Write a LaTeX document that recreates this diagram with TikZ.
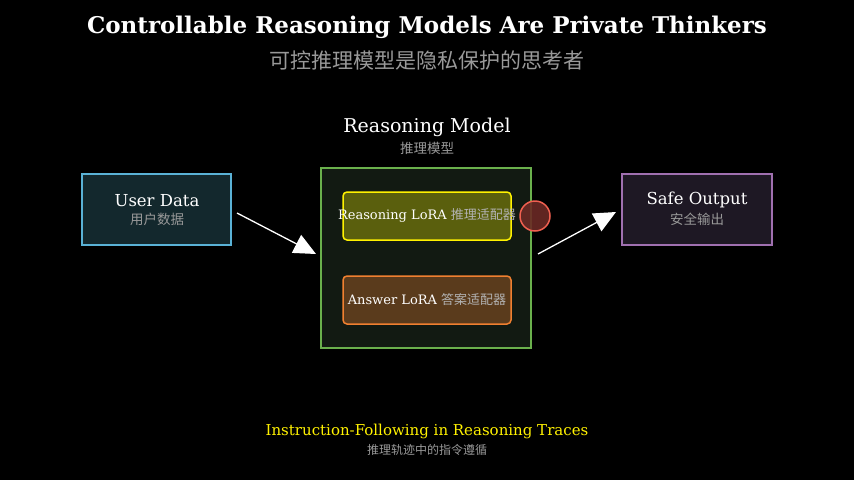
\documentclass[tikz,border=0pt]{standalone}
\usepackage{fontspec}
\setmainfont{DejaVu Serif}
\newfontfamily\cjk{Noto Sans CJK SC}
\usetikzlibrary{arrows.meta}
\begin{document}
\begin{tikzpicture}[x=1pt,y=-1pt,
  box/.style={draw,line width=1.5pt,inner sep=0pt},
  cn/.style={text=gray!80,font=\cjk\fontsize{13.5}{15}\selectfont},
  lbl/.style={text=white,font=\fontsize{16.5}{18}\selectfont},
  arr/.style={draw=white,line width=1.3pt,-{Triangle[length=22pt,width=20pt]}}]
\fill[black] (0,0) rectangle (854,480);
\useasboundingbox (0,0) rectangle (854,480);
\node[text=white,font=\bfseries\fontsize{23}{26}\selectfont] (t) at (427,27) {Controllable Reasoning Models Are Private Thinkers};
\node[text=gray!80,font=\cjk\fontsize{21}{24}\selectfont] (ts) at (427,60) {可控推理模型是隐私保护的思考者};
\node[text=white,font=\fontsize{19}{21}\selectfont] (mt) at (427,127) {Reasoning Model};
\node[cn] (mts) at (427,148) {推理模型};
\node[box,draw=cyan!70!white!85!black,fill={rgb,255:red,19;green,40;blue,45},minimum width=149pt,minimum height=71pt] (u) at (156.5,209.5) {};
\node[lbl] at (157,201) {User Data};
\node[cn] at (157,219) {用户数据};
\node[box,draw={rgb,255:red,106;green,176;blue,76},fill={rgb,255:red,18;green,26;blue,18},minimum width=210pt,minimum height=180pt] (m) at (426,258) {};
\node[box,rounded corners=4pt,draw=yellow,fill={rgb,255:red,90;green,95;blue,13},minimum width=168pt,minimum height=48pt] (r) at (427,216) {};
\node[text=white,font=\fontsize{13}{15}\selectfont] at (427,215) {Reasoning LoRA {\cjk\color{gray!60}推理适配器}};
\node[box,rounded corners=4pt,draw={rgb,255:red,240;green,128;blue,48},fill={rgb,255:red,90;green,59;blue,28},minimum width=168pt,minimum height=48pt] (a) at (427,300) {};
\node[text=white,font=\fontsize{13}{15}\selectfont] at (427,300) {Answer LoRA {\cjk\color{gray!60}答案适配器}};
\node[circle,draw={rgb,255:red,240;green,96;blue,80},line width=1.5pt,fill={rgb,255:red,107;green,42;blue,37},fill opacity=0.9,minimum size=30pt,inner sep=0pt] (c) at (535,216) {};
\node[box,draw={rgb,255:red,160;green,112;blue,176},fill={rgb,255:red,30;green,24;blue,36},minimum width=150pt,minimum height=71pt] (s) at (697,209.5) {};
\node[lbl] at (697,200) {Safe Output};
\node[cn] at (697,219) {安全输出};
\coordinate (a1) at (237,213); \coordinate (a2) at (316,254);
\coordinate (b1) at (538,254); \coordinate (b2) at (616,212);
\draw[arr] (a1) -- (a2);
\draw[arr] (b1) -- (b2);
\node[text=yellow,font=\fontsize{15}{17}\selectfont] (bt) at (427,431) {Instruction-Following in Reasoning Traces};
\node[cn,font=\cjk\fontsize{12}{14}\selectfont] (bs) at (427,450) {推理轨迹中的指令遵循};
\end{tikzpicture}
\end{document}
